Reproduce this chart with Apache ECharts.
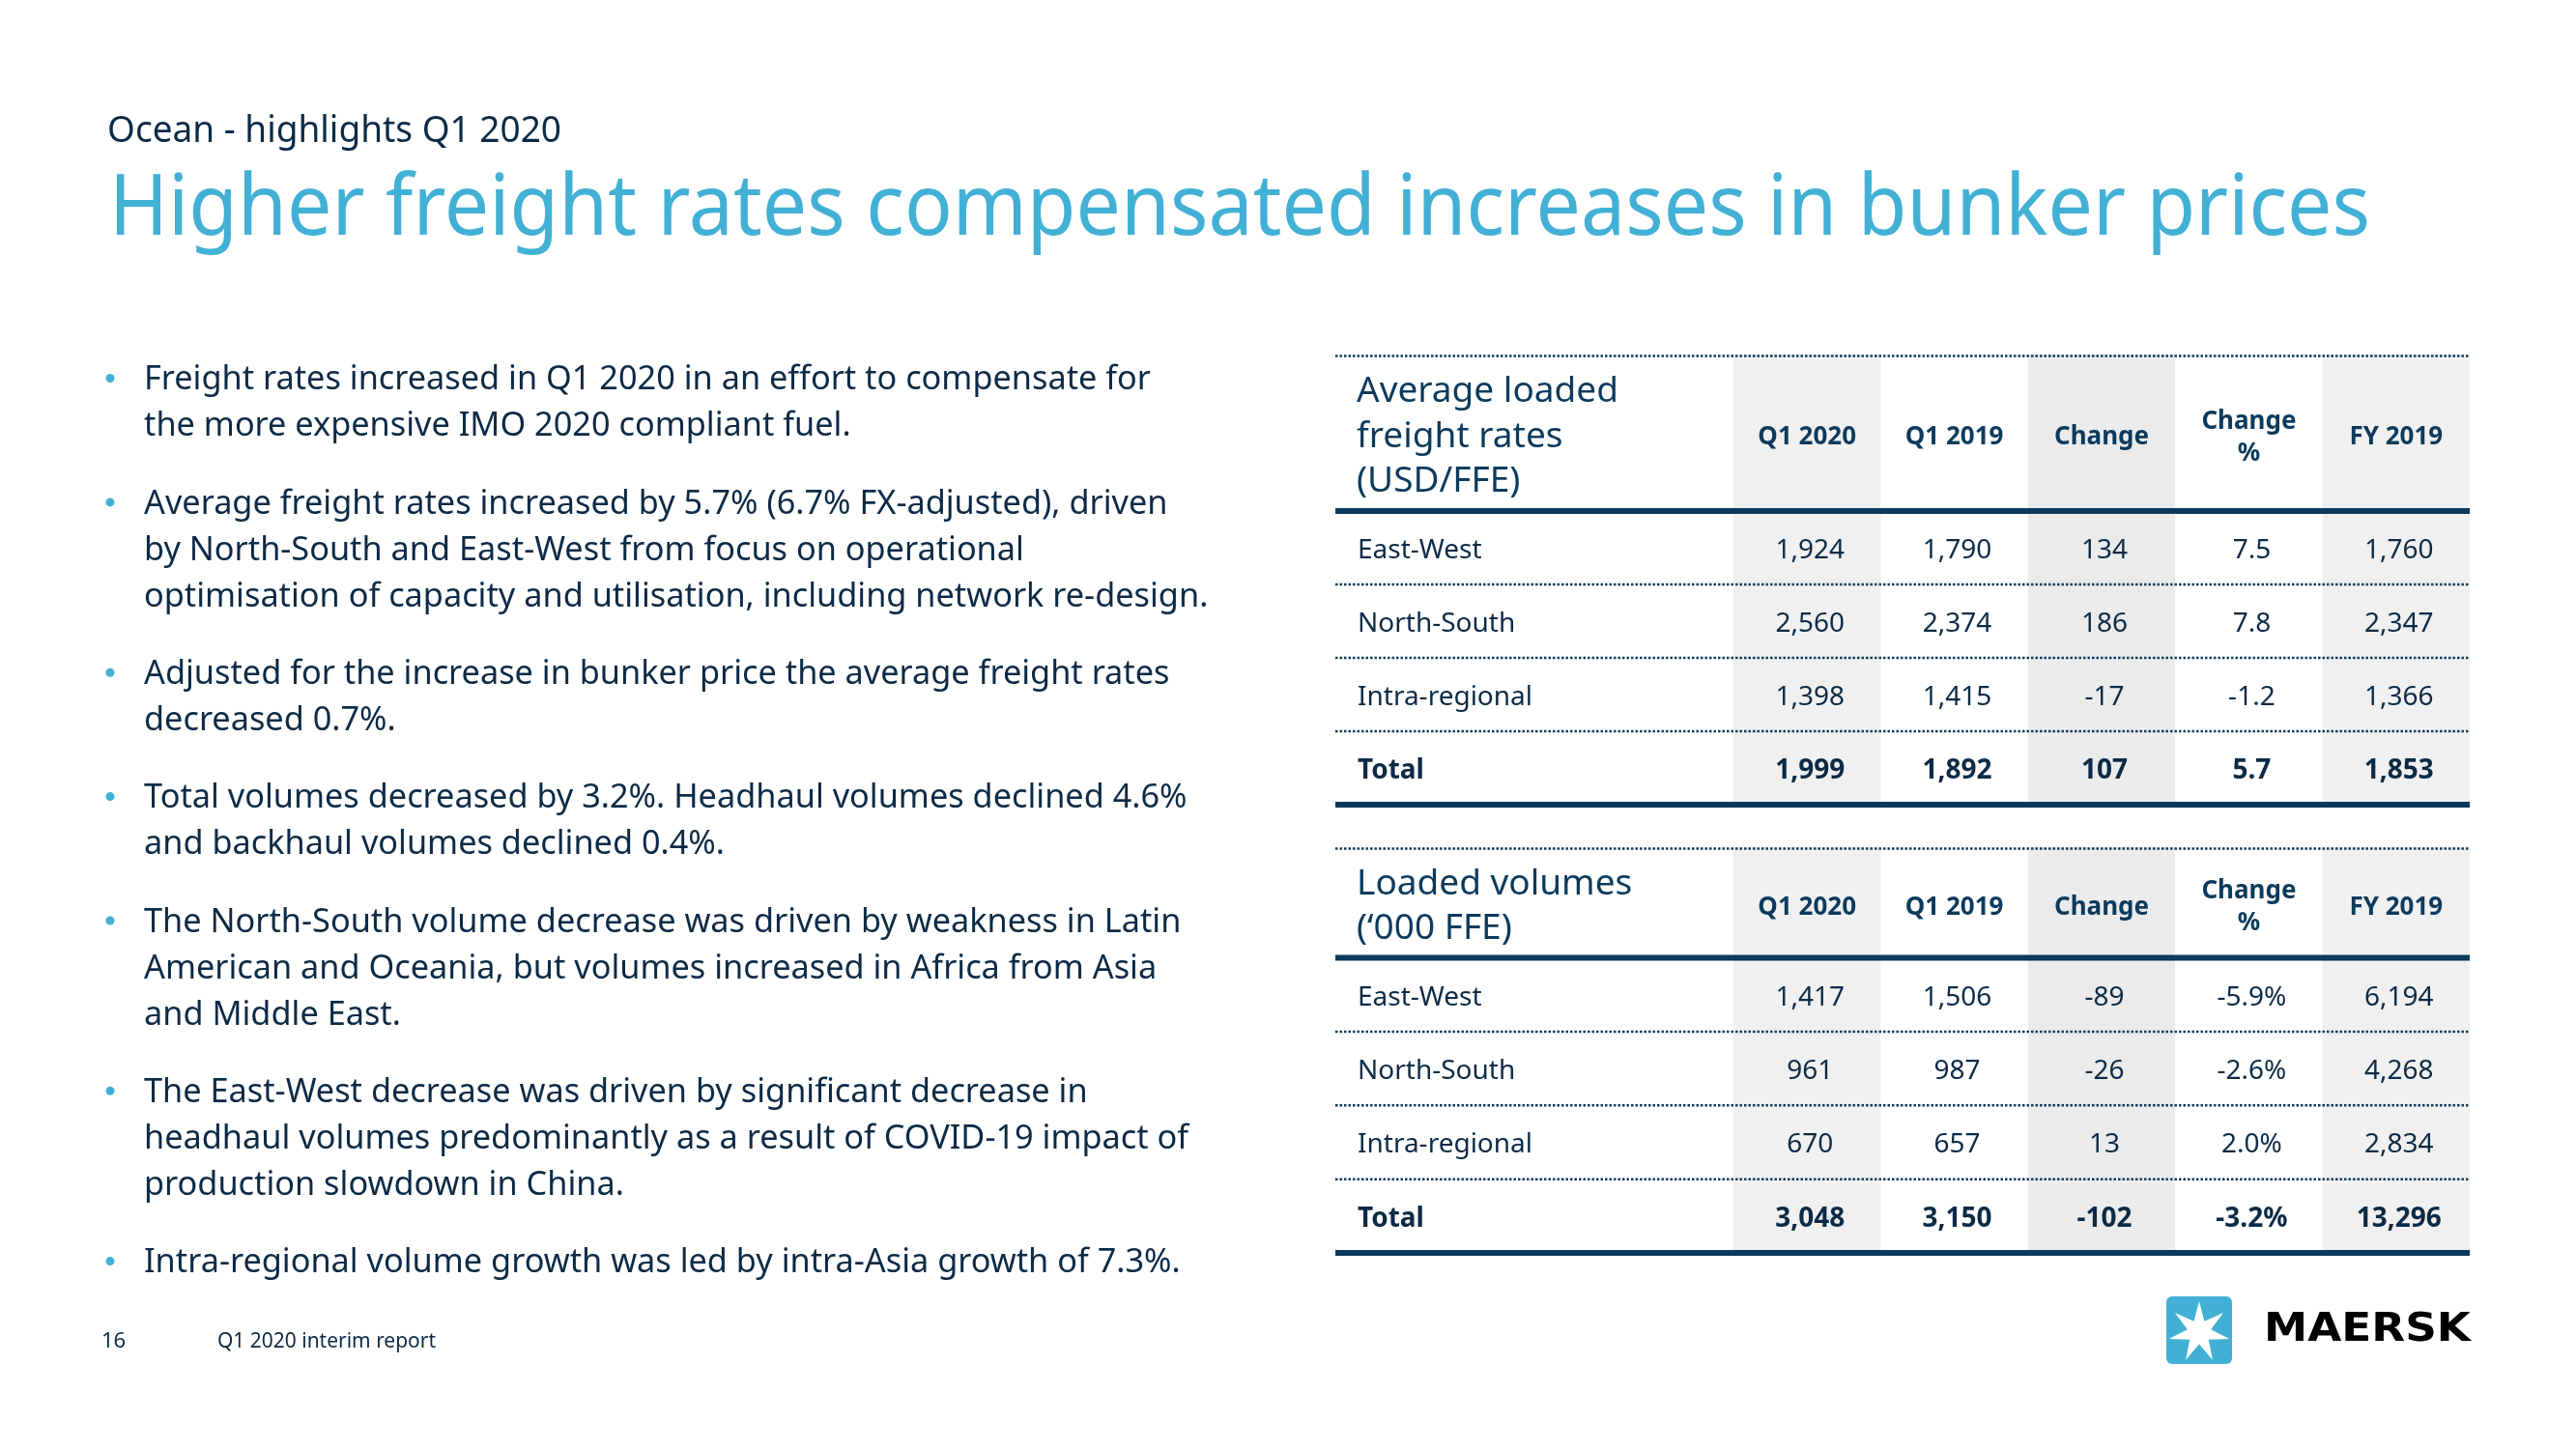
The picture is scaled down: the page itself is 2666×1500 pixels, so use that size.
<!DOCTYPE html>
<html><head><meta charset="utf-8">
<script src="https://cdn.jsdelivr.net/npm/echarts@6/dist/echarts.min.js"></script>
<style>html,body{margin:0;padding:0;background:#fff}#c{width:2666px;height:1500px}</style>
</head><body><div id="c"></div>
<script>
// ---------- texts ----------
const subtitleText = 'Ocean - highlights Q1 2020';
const titleText = 'Higher freight rates compensated increases in bunker prices';
const bullets = [
  ['Freight rates increased in Q1 2020 in an effort to compensate for', 'the more expensive IMO 2020 compliant fuel.'],
  ['Average freight rates increased by 5.7% (6.7% FX-adjusted), driven', 'by North-South and East-West from focus on operational', 'optimisation of capacity and utilisation, including network re-design.'],
  ['Adjusted for the increase in bunker price the average freight rates', 'decreased 0.7%.'],
  ['Total volumes decreased by 3.2%. Headhaul volumes declined 4.6%', 'and backhaul volumes declined 0.4%.'],
  ['The North-South volume decrease was driven by weakness in Latin', 'American and Oceania, but volumes increased in Africa from Asia', 'and Middle East.'],
  ['The East-West decrease was driven by significant decrease in', 'headhaul volumes predominantly as a result of COVID-19 impact of', 'production slowdown in China.'],
  ['Intra-regional volume growth was led by intra-Asia growth of 7.3%.']
];
const footerPage = '16';
const footerText = 'Q1 2020 interim report';
const brandText = 'MAERSK';

// ---------- table data ----------
const columnHeaders = ['Q1 2020', 'Q1 2019', 'Change', 'Change\n%', 'FY 2019'];
const rowLabels = ['East-West', 'North-South', 'Intra-regional', 'Total'];

const rateTitle = 'Average loaded\nfreight rates\n(USD/FFE)';
const rateQ12020 = [1924, 2560, 1398, 1999];
const rateQ12019 = [1790, 2374, 1415, 1892];
const rateChange = [134, 186, -17, 107];
const rateChangePct = [7.5, 7.8, -1.2, 5.7];
const rateFY2019 = [1760, 2347, 1366, 1853];

const volTitle = 'Loaded volumes\n(\u2018000 FFE)';
const volQ12020 = [1417, 961, 670, 3048];
const volQ12019 = [1506, 987, 657, 3150];
const volChange = [-89, -26, 13, -102];
const volChangePct = [-5.9, -2.6, 2.0, -3.2];
const volFY2019 = [6194, 4268, 2834, 13296];

// ---------- style ----------
const FONT = 'Noto Sans';
const TEXT = '#0c2a45';
const HEAD = '#0b3a5c';
const LINE = '#0b3a5c';
const BLUE = '#42b0d5';

const fmtInt = v => v.toLocaleString('en-US');
const fmtPct1 = v => v.toFixed(1);
const fmtPct2 = v => v.toFixed(1) + '%';

const measureCtx = document.createElement('canvas').getContext('2d');
function fitScale(text, size, weight, family, target) {
  measureCtx.font = weight + ' ' + size + 'px "' + family + '"';
  return target / measureCtx.measureText(text).width;
}

const LABEL_COLS = 412 / 152.4; // label column width in column units

function buildTable(gridIdx, title, H, cols, pctFmt, layout) {
  const grid = { left: 1382, right: 110, top: layout.top, height: layout.height, containLabel: false };
  const xAxis = { gridIndex: gridIdx, type: 'value', min: -LABEL_COLS, max: 5, show: false };
  const yAxis = { gridIndex: gridIdx, type: 'value', inverse: true, min: -H, max: 4, show: false };
  const cellTexts = [], cellPts = [], cellBold = [];
  for (let r = 0; r < rowLabels.length; r++) {
    cols.forEach((arr, c) => {
      cellPts.push([c + 0.5, r + 0.5]);
      cellTexts.push(c === 3 ? pctFmt(arr[r]) : fmtInt(arr[r]));
      cellBold.push(r === rowLabels.length - 1);
    });
  }
  const base = { type: 'custom', coordinateSystem: 'cartesian2d', xAxisIndex: gridIdx, yAxisIndex: gridIdx, silent: true, animation: false };
  const series = [
    Object.assign({}, base, {
      name: 'shade' + gridIdx, z: 1,
      data: columnHeaders.map((_, c) => [c]),
      renderItem: (params, api) => {
        const c = api.value(0);
        if (c % 2 === 1) return null;
        const p0 = api.coord([c, -H]);
        const p1 = api.coord([c + 1, 4]);
        return { type: 'rect', shape: { x: p0[0], y: p0[1], width: p1[0] - p0[0], height: p1[1] - p0[1] },
          style: { fill: c === 2 ? '#ebebeb' : '#f0f0f0' } };
      }
    }),
    Object.assign({}, base, {
      name: 'rules' + gridIdx, z: 3,
      data: [-H, 0, 1, 2, 3, 4].map(v => [v]),
      renderItem: (params, api) => {
        const v = api.value(0);
        const a = api.coord([-LABEL_COLS, v]);
        const b = api.coord([5, v]);
        const thick = (v === 0 || v === 4);
        let y = a[1];
        if (v === -H) y += 1.5;
        return { type: 'line', shape: { x1: a[0], y1: y, x2: b[0], y2: y },
          style: thick ? { stroke: LINE, lineWidth: 6 } : { stroke: LINE, lineWidth: 2.5, lineDash: [2.5, 2] } };
      }
    }),
    Object.assign({}, base, {
      name: 'cells' + gridIdx, z: 5,
      data: cellPts,
      renderItem: (params, api) => {
        const p = api.coord([api.value(0), api.value(1)]);
        return { type: 'text', x: p[0] + 3, y: p[1] + 3,
          style: { text: cellTexts[params.dataIndex], fill: TEXT, fontFamily: FONT, fontSize: 28,
            fontWeight: cellBold[params.dataIndex] ? 'bold' : 'normal', align: 'center', verticalAlign: 'middle' } };
      }
    }),
    Object.assign({}, base, {
      name: 'rowlabels' + gridIdx, z: 5,
      data: rowLabels.map((_, r) => [-LABEL_COLS, r + 0.5]),
      renderItem: (params, api) => {
        const p = api.coord([api.value(0), api.value(1)]);
        const last = params.dataIndex === rowLabels.length - 1;
        return { type: 'text', x: p[0] + 23, y: p[1] + 3,
          style: { text: rowLabels[params.dataIndex], fill: TEXT, fontFamily: FONT, fontSize: 28,
            fontWeight: last ? 'bold' : 'normal', align: 'left', verticalAlign: 'middle' } };
      }
    }),
    Object.assign({}, base, {
      name: 'headers' + gridIdx, z: 5,
      data: columnHeaders.map((_, c) => [c + 0.5, -H / 2]),
      renderItem: (params, api) => {
        const p = api.coord([api.value(0), api.value(1)]);
        return { type: 'text', x: p[0], y: p[1] + 5,
          style: { text: columnHeaders[params.dataIndex], fill: HEAD, fontFamily: FONT, fontSize: 26,
            fontWeight: 'bold', lineHeight: 33, align: 'center', verticalAlign: 'middle' } };
      }
    }),
    Object.assign({}, base, {
      name: 'title' + gridIdx, z: 5,
      data: [[-LABEL_COLS, -H / 2]],
      renderItem: (params, api) => {
        const p = api.coord([api.value(0), api.value(1)]);
        return { type: 'text', x: p[0] + 22, y: p[1] + 4,
          style: { text: title, fill: HEAD, fontFamily: FONT, fontSize: 37,
            lineHeight: 46.5, align: 'left', verticalAlign: 'middle' } };
      }
    })
  ];
  return { grid, xAxis, yAxis, series };
}

const t1 = buildTable(0, rateTitle, 2.13, [rateQ12020, rateQ12019, rateChange, rateChangePct, rateFY2019], fmtPct1, { top: 367, height: 466 });
const t2 = buildTable(1, volTitle, 1.5, [volQ12020, volQ12019, volChange, volChangePct, volFY2019], fmtPct2, { top: 877, height: 420 });

// ---------- free text / logo ----------
const graphic = [];
const subSize = 39, titleSize = 88, bulletSize = 35;
graphic.push({ type: 'text', x: 111, y: 147 - 0.29 * subSize, scaleX: fitScale(subtitleText, subSize, 'normal', FONT, 470),
  style: { text: subtitleText, fill: TEXT, fontFamily: FONT, fontSize: subSize, align: 'left', verticalAlign: 'middle' } });
graphic.push({ type: 'text', x: 113, y: 243 - 0.29 * titleSize, scaleX: fitScale(titleText, titleSize, 'normal', FONT, 2340),
  style: { text: titleText, fill: BLUE, fontFamily: FONT, fontSize: titleSize, align: 'left', verticalAlign: 'middle' } });

const bScale = fitScale(bullets[0][0], bulletSize, 'normal', FONT, 1042);
let baseline = 403.5;
const lineH = 47.9, paraGap = 32.6;
bullets.forEach(par => {
  graphic.push({ type: 'circle', shape: { cx: 114, cy: baseline - 12, r: 4.5 }, style: { fill: BLUE } });
  par.forEach((ln, i) => {
    graphic.push({ type: 'text', x: 149, y: baseline + i * lineH - 0.29 * bulletSize, scaleX: bScale,
      style: { text: ln, fill: TEXT, fontFamily: FONT, fontSize: bulletSize, align: 'left', verticalAlign: 'middle' } });
  });
  baseline += par.length * lineH + paraGap;
});

graphic.push({ type: 'text', x: 105, y: 1389, style: { text: footerPage, fill: TEXT, fontFamily: FONT, fontSize: 22, align: 'left', verticalAlign: 'middle' } });
graphic.push({ type: 'text', x: 225, y: 1389, scaleX: fitScale(footerText, 21, 'normal', FONT, 226),
  style: { text: footerText, fill: TEXT, fontFamily: FONT, fontSize: 21, align: 'left', verticalAlign: 'middle' } });

// logo
graphic.push({ type: 'rect', shape: { x: 2242, y: 1342, width: 68, height: 70, r: 6 }, style: { fill: BLUE } });
const starPts = [];
const cx = 2276, cy = 1379, R = 32, rIn = 12.5;
for (let k = 0; k < 14; k++) {
  const ang = -Math.PI / 2 + k * Math.PI / 7;
  const rad = k % 2 === 0 ? R : rIn;
  starPts.push([cx + rad * Math.cos(ang), cy + rad * Math.sin(ang)]);
}
graphic.push({ type: 'polygon', shape: { points: starPts }, style: { fill: '#ffffff' } });
graphic.push({ type: 'text', x: 2343, y: 1378, scaleX: fitScale(brandText, 40, 'bold', 'DejaVu Sans', 214),
  style: { text: brandText, fill: '#000000', fontFamily: 'DejaVu Sans', fontWeight: 'bold', fontSize: 40, align: 'left', verticalAlign: 'middle' } });

const chart = echarts.init(document.getElementById('c'), null, { renderer: 'canvas' });
chart.setOption({
  animation: false,
  backgroundColor: '#ffffff',
  grid: [t1.grid, t2.grid],
  xAxis: [t1.xAxis, t2.xAxis],
  yAxis: [t1.yAxis, t2.yAxis],
  series: t1.series.concat(t2.series),
  graphic: graphic
});
</script></body></html>
